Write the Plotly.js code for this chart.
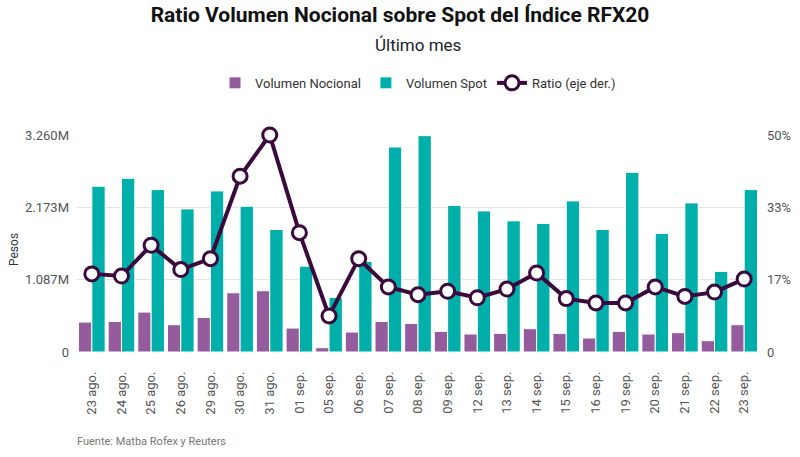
<!DOCTYPE html>
<html>
<head>
<meta charset="utf-8">
<script src="https://cdn.plot.ly/plotly-3.0.1.min.js"></script>
<style>html,body{margin:0;padding:0;background:#fff;}#chart{width:800px;height:457px;}</style>
</head>
<body>
<div id="chart"></div>
<script>
const categories = ["23 ago.","24 ago.","25 ago.","26 ago.","29 ago.","30 ago.","31 ago.","01 sep.","05 sep.","06 sep.","07 sep.","08 sep.","09 sep.","12 sep.","13 sep.","14 sep.","15 sep.","16 sep.","19 sep.","20 sep.","21 sep.","22 sep.","23 sep."];
const volumenNocional = [0.45,0.46,0.60,0.41,0.52,0.89,0.92,0.36,0.065,0.30,0.46,0.43,0.31,0.27,0.28,0.35,0.28,0.21,0.31,0.27,0.29,0.17,0.41];
const volumenSpot = [2.49,2.61,2.44,2.15,2.42,2.19,1.84,1.29,0.82,1.36,3.08,3.25,2.20,2.12,1.97,1.93,2.27,1.84,2.70,1.78,2.24,1.21,2.44];
const ratio = [18.0,17.5,24.6,19.0,21.5,40.5,50.0,27.5,8.3,21.5,15.0,13.2,14.0,12.5,14.5,18.2,12.3,11.3,11.3,15.0,12.8,13.8,16.8];
const leftTickVals = [0,1.087,2.173,3.26];
const leftTickText = ["0","1.087M","2.173M","3.260M"];
const rightTickVals = [0,16.667,33.333,50];
const rightTickText = ["0","17%","33%","50%"];

const traces = [
  {type:"bar", name:"Volumen Nocional", x:categories, y:volumenNocional,
   marker:{color:"#955C9D", line:{color:"#ffffff", width:1}}, hoverinfo:"none"},
  {type:"bar", name:"Volumen Spot", x:categories, y:volumenSpot,
   marker:{color:"#00AFA9", line:{color:"#ffffff", width:1}}, hoverinfo:"none"},
  {type:"scatter", mode:"lines+markers", name:"Ratio (eje der.)", x:categories, y:ratio, yaxis:"y2",
   cliponaxis:false,
   line:{color:"#3A0A3E", width:4},
   marker:{size:14, color:"#ffffff", line:{color:"#3A0A3E", width:3}}, hoverinfo:"none"}
];

const layout = {
  width:800, height:457,
  margin:{l:77, r:41, t:135, b:105},
  paper_bgcolor:"#fff", plot_bgcolor:"#fff",
  font:{family:"Roboto, sans-serif", color:"#555", size:12},
  title:{text:"<b>Ratio Volumen Nocional sobre Spot del Índice RFX20</b>", x:0.5, xanchor:"center", y:0.985, yanchor:"top",
         font:{family:"Roboto, sans-serif", size:21, color:"#111"}},
  barmode:"group", bargap:0.1, bargroupgap:0,
  showlegend:true,
  legend:{orientation:"h", x:0.5, xanchor:"center", y:1.24, yanchor:"middle", font:{size:13, color:"#333"}, traceorder:"normal"},
  xaxis:{type:"category", range:[-0.5,22.5], autorange:false, tickangle:-90, tickfont:{size:13, color:"#555"},
         ticklabelstandoff:16, showgrid:false, showline:false, ticks:"", automargin:false},
  yaxis:{range:[0,3.26], autorange:false, tickvals:leftTickVals, ticktext:leftTickText, showgrid:true, gridcolor:"#e3e3e3", gridwidth:1,
         zeroline:false, tickfont:{size:13, color:"#555"}, ticks:"", ticklabelstandoff:7, automargin:false},
  yaxis2:{range:[0,50], autorange:false, overlaying:"y", side:"right", tickvals:rightTickVals, ticktext:rightTickText, showgrid:false,
          zeroline:false, tickfont:{size:13, color:"#555"}, ticks:"", ticklabelstandoff:7, automargin:false},
  annotations:[
    {text:"Último mes", xref:"paper", yref:"paper", x:0.5, xanchor:"center", y:1+(135-45)/217, yanchor:"middle",
     showarrow:false, font:{size:17, color:"#222"}},
    {text:"Pesos", xref:"paper", yref:"paper", x:(14-77)/682, xanchor:"center", y:(352-250)/217, yanchor:"middle",
     textangle:-90, showarrow:false, font:{size:12, color:"#333"}},
    {text:"Fuente: Matba Rofex y Reuters", xref:"paper", yref:"paper", x:(75-77)/682, xanchor:"left", y:-(441-352)/217, yanchor:"middle",
     showarrow:false, font:{size:11, color:"#777"}}
  ]
};

Plotly.newPlot("chart", traces, layout, {displayModeBar:false, staticPlot:true});
</script>
</body>
</html>
